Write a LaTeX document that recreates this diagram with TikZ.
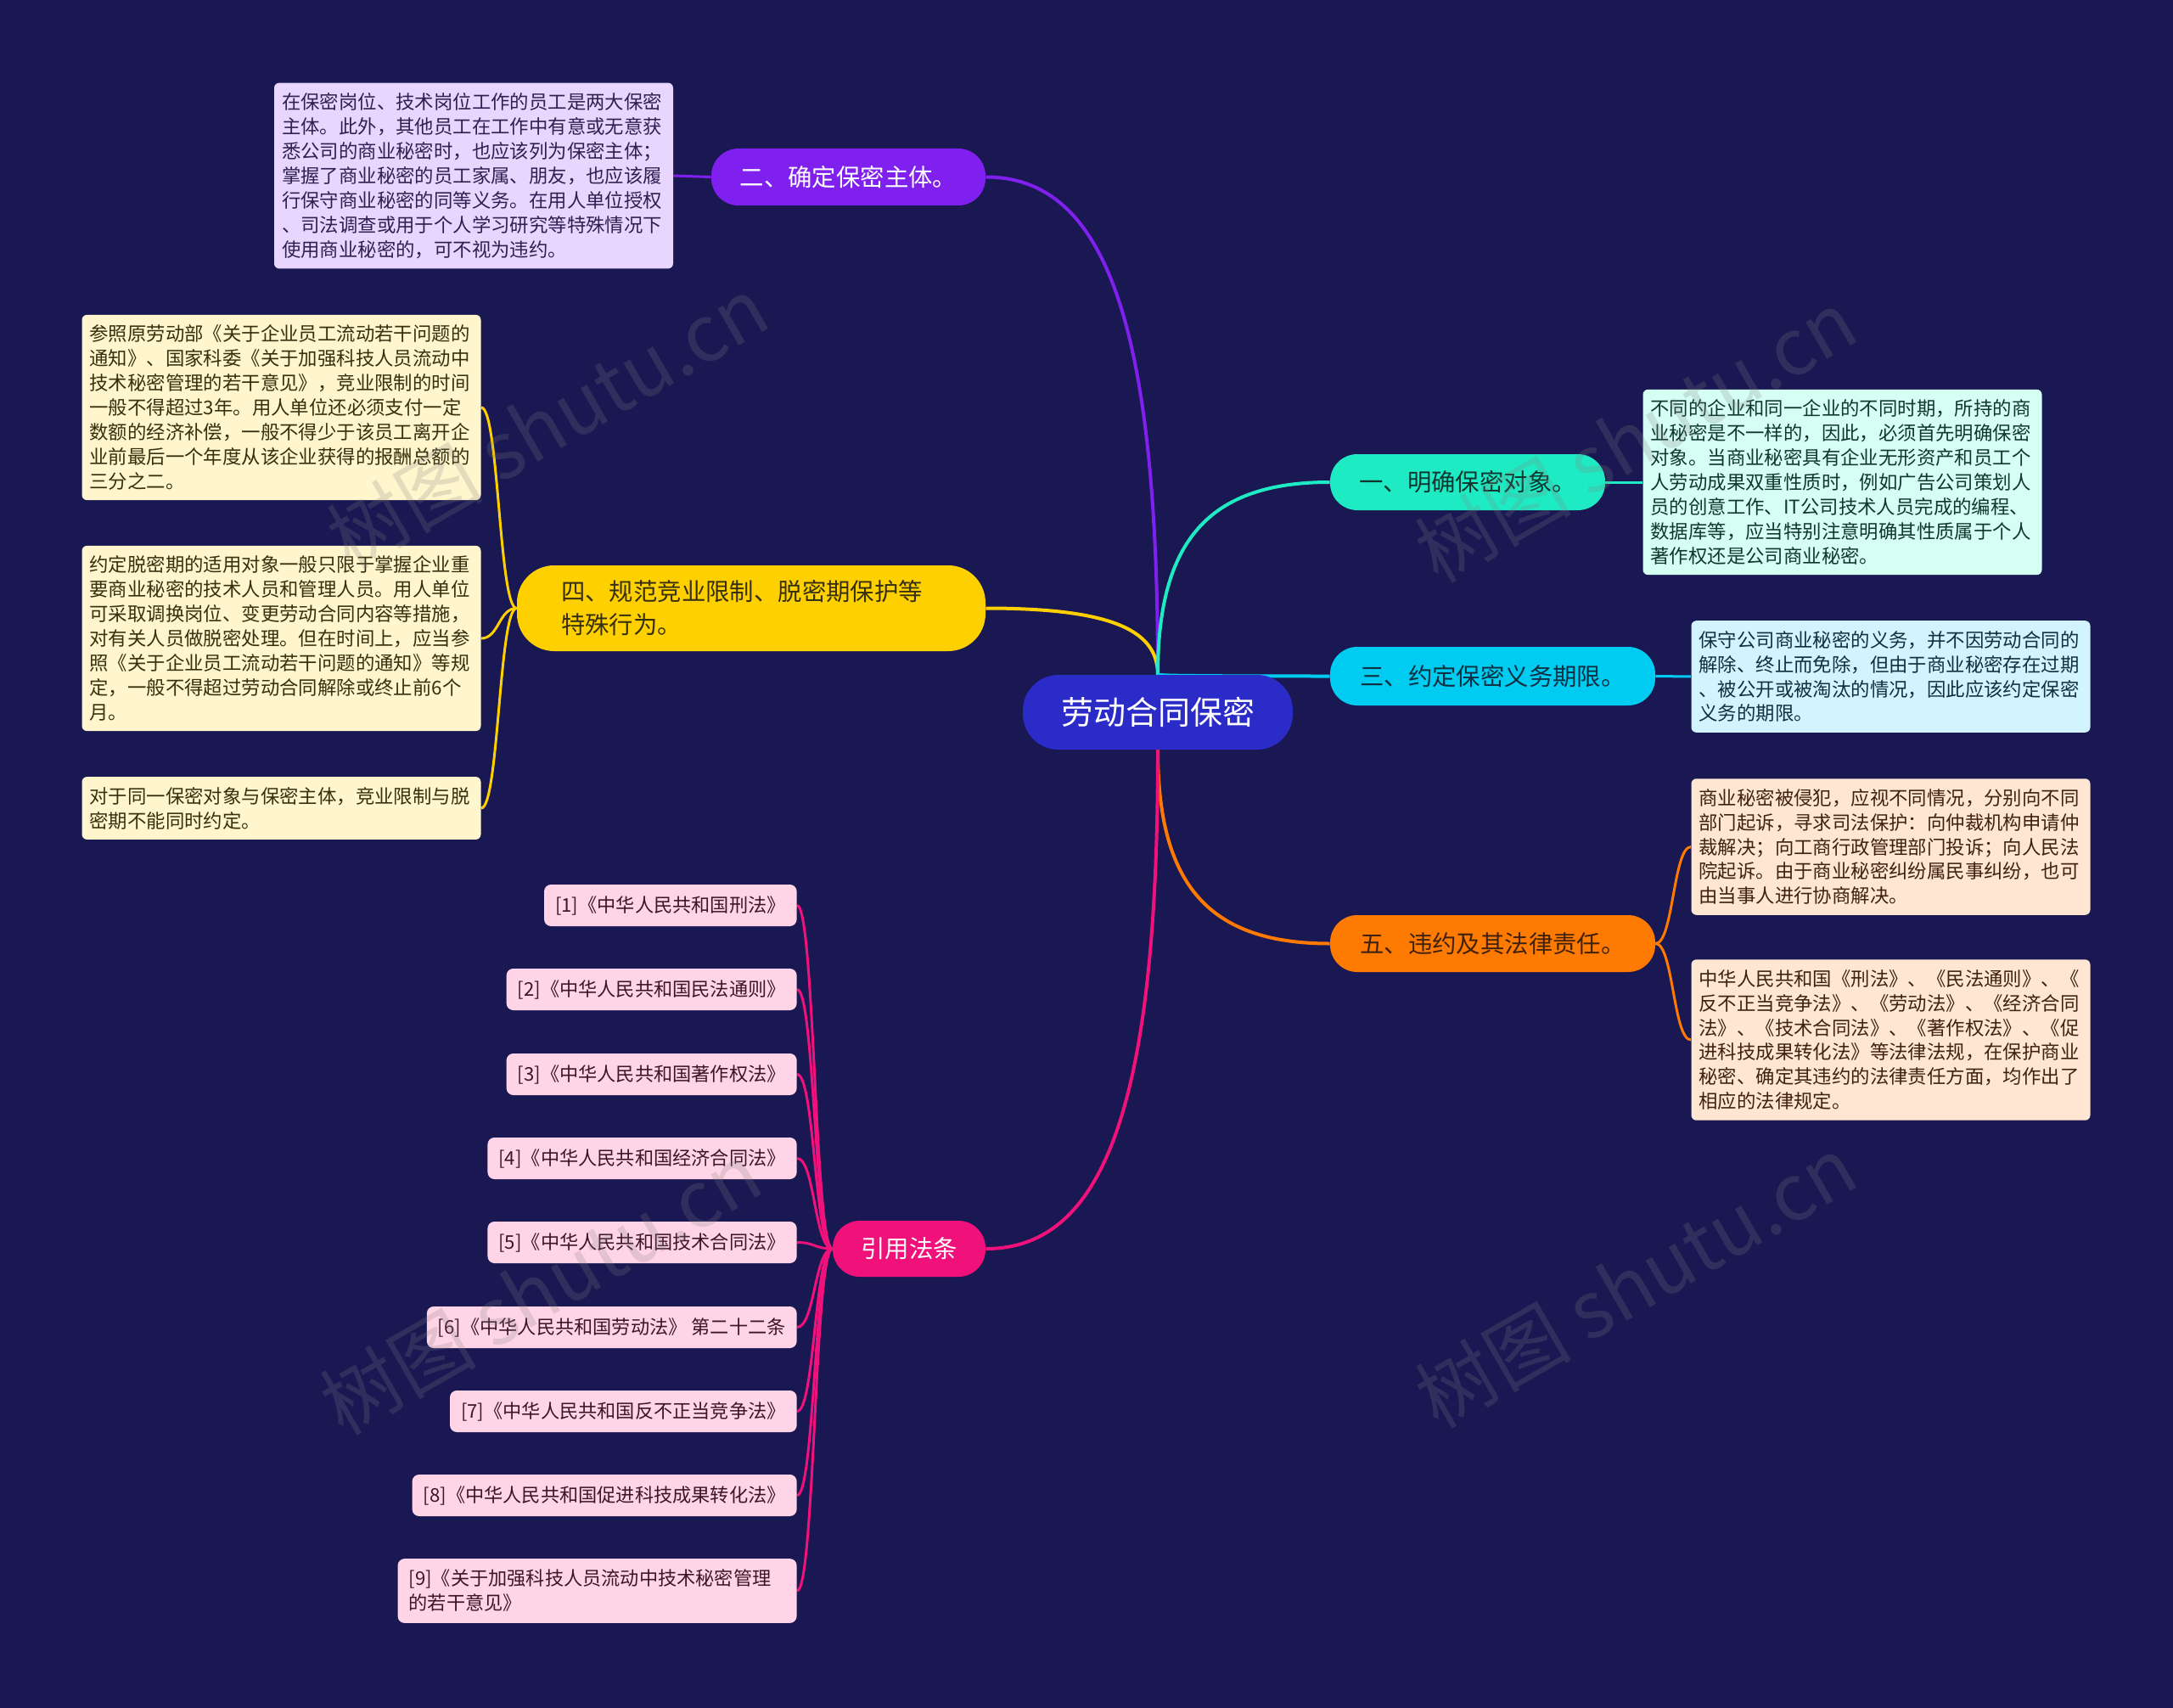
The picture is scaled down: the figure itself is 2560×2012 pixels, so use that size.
\documentclass[tikz,border=0pt]{standalone}
\usepackage{fontspec}
\setmainfont{Noto Sans CJK SC}
\usetikzlibrary{calc}
\pgfdeclarelayer{bg}\pgfdeclarelayer{edges}
\pgfsetlayers{bg,edges,main}
\definecolor{bgc}{RGB}{26,24,82}
\definecolor{cenc}{RGB}{43,43,200}
\definecolor{purp}{RGB}{128,32,238}
\definecolor{purpl}{RGB}{232,214,255}
\definecolor{yel}{RGB}{255,208,0}
\definecolor{yell}{RGB}{255,246,206}
\definecolor{teal1}{RGB}{30,235,195}
\definecolor{teall}{RGB}{214,255,244}
\definecolor{cyan1}{RGB}{0,204,242}
\definecolor{cyanl}{RGB}{210,244,255}
\definecolor{ora}{RGB}{255,122,0}
\definecolor{oral}{RGB}{255,230,210}
\definecolor{pink1}{RGB}{240,18,122}
\definecolor{pinkl}{RGB}{255,212,230}
\definecolor{tpurp}{RGB}{50,30,80}
\definecolor{tyel}{RGB}{55,48,15}
\definecolor{tteal}{RGB}{15,55,48}
\definecolor{tcyan}{RGB}{14,48,64}
\definecolor{tora}{RGB}{62,34,14}
\definecolor{tpink}{RGB}{60,22,40}
\definecolor{tdark}{RGB}{40,40,40}
\newcommand\mainlink[3]{\draw[#1,mlink] let \p1=(#2), \p2=(#3) in (\p1) .. controls ({\x1},{\y1+0.7*(\y2-\y1)}) and ({\x2+0.7*(\x1-\x2)},{\y2}) .. (\p2);}
\newcommand\leaflink[3]{\draw[#1,llink] let \p1=(#2), \p2=(#3) in (\p1) .. controls ({(\x1+\x2)/2},{\y1}) and ({(\x1+\x2)/2},{\y2}) .. (\p2);}
\begin{document}
\begin{tikzpicture}[x=0.5pt,y=-0.5pt,
  leaf/.style={rectangle, rounded corners=3pt, align=left, text width=226pt, inner xsep=4.5pt, inner ysep=6pt, font=\fontsize{11.2}{14.45}\selectfont},
  refn/.style={rectangle, rounded corners=4pt, fill=pinkl, text=tpink, anchor=east, inner xsep=6.5pt, minimum height=24.5pt, font=\fontsize{11.1}{14.5}\selectfont},
  branch/.style={rectangle, rounded corners=16pt, inner sep=0pt, font=\fontsize{14.2}{19.5}\selectfont},
  mlink/.style={line width=2pt},
  llink/.style={line width=1.5pt},
  wm/.style={text=gray, opacity=0.22, font=\fontsize{46}{50}\selectfont, rotate=30}]
\begin{pgfonlayer}{bg}
\fill[bgc] (0,0) rectangle (2560,2012);
\end{pgfonlayer}
\useasboundingbox (0,0) rectangle (2560,2012);

% center
\node[rectangle, rounded corners=21pt, fill=cenc, text=white, minimum width=159pt, minimum height=44pt, inner sep=0pt, font=\fontsize{19}{22}\selectfont] (c) at (1364,839) {劳动合同保密};

% branches
\node[branch, fill=purp, text=white, minimum width=161.5pt, minimum height=33.5pt] (b2) at (999.5,208.5) {二、确定保密主体。};
\node[branch, fill=yel, text=tyel, rounded corners=22pt, minimum height=50.5pt, text width=224pt, inner xsep=26pt, align=left] (b4) at (885,716.5) {四、规范竞业限制、脱密期保护等\\特殊行为。};
\node[branch, fill=teal1, text=tteal, minimum width=162pt, minimum height=33pt] (b1) at (1729,568) {一、明确保密对象。};
\node[branch, fill=cyan1, text=tcyan, minimum width=191.5pt, minimum height=34.5pt] (b3) at (1758.5,796.5) {三、约定保密义务期限。};
\node[branch, fill=ora, text=tora, minimum width=191.5pt, minimum height=33.5pt] (b5) at (1758.5,1111.5) {五、违约及其法律责任。};
\node[branch, fill=pink1, text=white, minimum width=90pt, minimum height=33pt] (br) at (1071,1471) {引用法条};

% leaves
\node[leaf, fill=purpl, text=tpurp] (l2) at (558,207) {在保密岗位、技术岗位工作的员工是两大保密\\主体。此外，其他员工在工作中有意或无意获\\悉公司的商业秘密时，也应该列为保密主体；\\掌握了商业秘密的员工家属、朋友，也应该履\\行保守商业秘密的同等义务。在用人单位授权\\、司法调查或用于个人学习研究等特殊情况下\\使用商业秘密的，可不视为违约。};
\node[leaf, fill=yell, text=tyel] (l4a) at (331.5,480) {参照原劳动部《关于企业员工流动若干问题的\\通知》、国家科委《关于加强科技人员流动中\\技术秘密管理的若干意见》，竞业限制的时间\\一般不得超过3年。用人单位还必须支付一定\\数额的经济补偿，一般不得少于该员工离开企\\业前最后一个年度从该企业获得的报酬总额的\\三分之二。};
\node[leaf, fill=yell, text=tyel] (l4b) at (331.5,752) {约定脱密期的适用对象一般只限于掌握企业重\\要商业秘密的技术人员和管理人员。用人单位\\可采取调换岗位、变更劳动合同内容等措施，\\对有关人员做脱密处理。但在时间上，应当参\\照《关于企业员工流动若干问题的通知》等规\\定，一般不得超过劳动合同解除或终止前6个\\月。};
\node[leaf, fill=yell, text=tyel] (l4c) at (331.5,952) {对于同一保密对象与保密主体，竞业限制与脱\\密期不能同时约定。};
\node[leaf, fill=teall, text=tteal] (l1) at (2170.5,568) {不同的企业和同一企业的不同时期，所持的商\\业秘密是不一样的，因此，必须首先明确保密\\对象。当商业秘密具有企业无形资产和员工个\\人劳动成果双重性质时，例如广告公司策划人\\员的创意工作、IT公司技术人员完成的编程、\\数据库等，应当特别注意明确其性质属于个人\\著作权还是公司商业秘密。};
\node[leaf, fill=cyanl, text=tcyan] (l3) at (2227.5,797) {保守公司商业秘密的义务，并不因劳动合同的\\解除、终止而免除，但由于商业秘密存在过期\\、被公开或被淘汰的情况，因此应该约定保密\\义务的期限。};
\node[leaf, fill=oral, text=tora] (l5a) at (2227.5,997.5) {商业秘密被侵犯，应视不同情况，分别向不同\\部门起诉，寻求司法保护：向仲裁机构申请仲\\裁解决；向工商行政管理部门投诉；向人民法\\院起诉。由于商业秘密纠纷属民事纠纷，也可\\由当事人进行协商解决。};
\node[leaf, fill=oral, text=tora] (l5b) at (2227.5,1225) {中华人民共和国《刑法》、《民法通则》、《\\反不正当竞争法》、《劳动法》、《经济合同\\法》、《技术合同法》、《著作权法》、《促\\进科技成果转化法》等法律法规，在保护商业\\秘密、确定其违约的法律责任方面，均作出了\\相应的法律规定。};

% references
\node[refn] (r1) at (939,1066.5) {[1]《中华人民共和国刑法》};
\node[refn] (r2) at (939,1165.5) {[2]《中华人民共和国民法通则》};
\node[refn] (r3) at (939,1265.5) {[3]《中华人民共和国著作权法》};
\node[refn] (r4) at (939,1364.5) {[4]《中华人民共和国经济合同法》};
\node[refn] (r5) at (939,1463.5) {[5]《中华人民共和国技术合同法》};
\node[refn] (r6) at (939,1563.5) {[6]《中华人民共和国劳动法》 第二十二条};
\node[refn] (r7) at (939,1662.5) {[7]《中华人民共和国反不正当竞争法》};
\node[refn] (r8) at (939,1761.5) {[8]《中华人民共和国促进科技成果转化法》};
\node[refn, align=left, text width=222pt, inner ysep=6.5pt] (r9) at (939,1874) {[9]《关于加强科技人员流动中技术秘密管理\\的若干意见》};

\begin{pgfonlayer}{edges}
\mainlink{purp}{c.north}{b2.east}
\mainlink{yel}{c.north}{b4.east}
\mainlink{teal1}{c.north}{b1.west}
\mainlink{cyan1}{c.north}{b3.west}
\mainlink{ora}{c.south}{b5.west}
\mainlink{pink1}{c.south}{br.east}
\leaflink{purp}{b2.west}{l2.east}
\leaflink{yel}{b4.west}{l4a.east}
\leaflink{yel}{b4.west}{l4b.east}
\leaflink{yel}{b4.west}{l4c.east}
\leaflink{teal1}{b1.east}{l1.west}
\leaflink{cyan1}{b3.east}{l3.west}
\leaflink{ora}{b5.east}{l5a.west}
\leaflink{ora}{b5.east}{l5b.west}
\foreach \r in {r1,r2,r3,r4,r5,r6,r7,r8,r9}{\leaflink{pink1}{br.west}{\r.east}}
\end{pgfonlayer}

% watermarks
\node[wm] (w1) at (645,498) {树图 shutu.cn};
\node[wm] (w2) at (1927,514) {树图 shutu.cn};
\node[wm] (w3) at (637,1518) {树图 shutu.cn};
\node[wm] (w4) at (1927,1510) {树图 shutu.cn};
\end{tikzpicture}
\end{document}
